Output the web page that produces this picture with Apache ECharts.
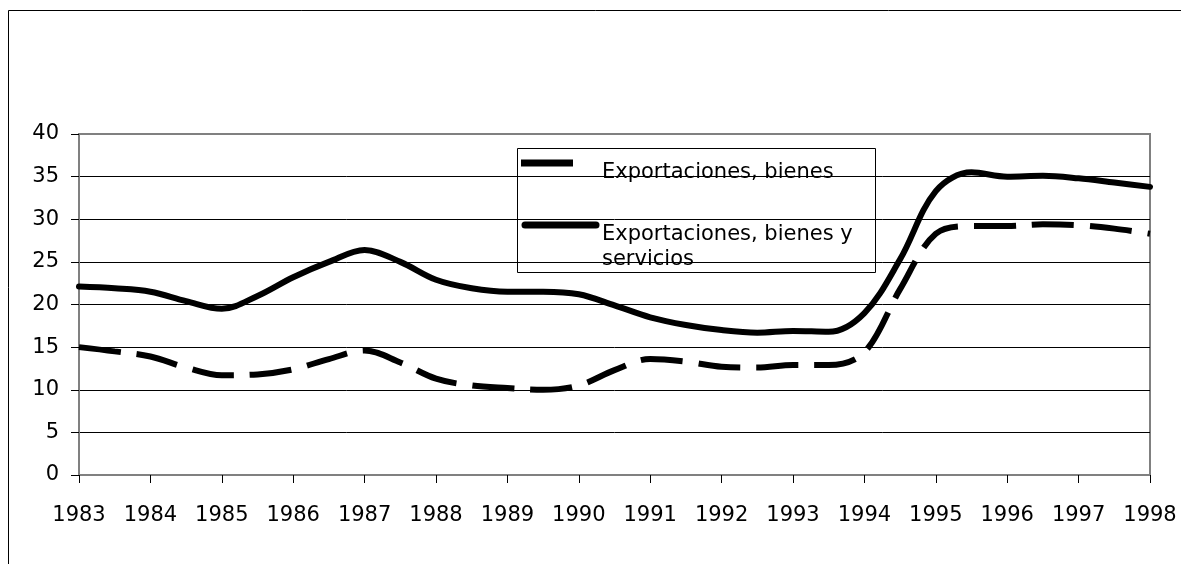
<!DOCTYPE html>
<html>
<head>
<meta charset="utf-8">
<script src="https://cdn.jsdelivr.net/npm/echarts@6/dist/echarts.min.js"></script>
<style>
  html, body { margin: 0; padding: 0; background: #fff; }
  #chart { width: 1181px; height: 564px; }
</style>
</head>
<body>
<div id="chart"></div>
<script>
// half-year positions
var years = [1983, 1983.5, 1984, 1984.5, 1985, 1985.5, 1986, 1986.5, 1987, 1987.5,
  1988, 1988.5, 1989, 1989.5, 1990, 1990.5, 1991, 1991.5, 1992, 1992.5,
  1993, 1993.5, 1994, 1994.5, 1995, 1995.5, 1996, 1996.5, 1997, 1997.5, 1998];

// Exportaciones, bienes (dashed)
var bienes = [15.0, 14.5, 13.9, 12.6, 11.7, 11.8, 12.4, 13.6, 14.6, 13.2,
  11.3, 10.5, 10.2, 10.0, 10.5, 12.3, 13.6, 13.3, 12.7, 12.6,
  12.9, 12.9, 14.4, 21.8, 28.3, 29.2, 29.2, 29.4, 29.3, 28.9, 28.3];

// Exportaciones, bienes y servicios (solid)
var bienesServicios = [22.1, 21.9, 21.5, 20.4, 19.5, 21.0, 23.2, 25.0, 26.4, 25.0,
  22.9, 21.9, 21.5, 21.5, 21.2, 19.9, 18.5, 17.6, 17.0, 16.7,
  16.9, 16.8, 19.0, 25.3, 33.3, 35.5, 35.0, 35.1, 34.8, 34.3, 33.8];

var yTicks = [0, 5, 10, 15, 20, 25, 30, 35, 40];
var legendNames = ["Exportaciones, bienes", "Exportaciones, bienes y\nservicios"];

function pairs(xs, ys) {
  return xs.map(function (x, i) { return [x, ys[i]]; });
}

var font = "DejaVu Sans";
var myChart = echarts.init(document.getElementById("chart"));

myChart.setOption({
  backgroundColor: "#fff",
  animation: false,
  grid: {
    left: 79,
    right: 31,
    top: 134,
    bottom: 89,
    show: true,
    borderColor: "#808080",
    borderWidth: 2
  },
  xAxis: {
    type: "value",
    min: 1983,
    max: 1998,
    interval: 1,
    axisLine: { lineStyle: { color: "#808080", width: 2 } },
    axisTick: { show: true, length: 8, lineStyle: { color: "#000", width: 1 } },
    axisLabel: {
      margin: 30,
      color: "#000",
      fontFamily: font,
      fontSize: 21,
      formatter: function (v) { return String(v); }
    },
    splitLine: { show: false }
  },
  yAxis: {
    type: "value",
    min: yTicks[0],
    max: yTicks[yTicks.length - 1],
    interval: 5,
    axisLine: { show: true, lineStyle: { color: "#808080", width: 2 } },
    axisTick: { show: true, length: 8, lineStyle: { color: "#000", width: 1 } },
    axisLabel: { margin: 20, color: "#000", fontFamily: font, fontSize: 21 },
    splitLine: {
      show: true,
      showMinLine: false,
      showMaxLine: false,
      lineStyle: { color: "#000", width: 1 }
    }
  },
  series: [
    {
      name: legendNames[0],
      type: "line",
      data: pairs(years, bienes),
      smooth: 0.35,
      showSymbol: false,
      lineStyle: { color: "#000", width: 6, type: [42, 16], cap: "butt" }
    },
    {
      name: legendNames[1],
      type: "line",
      data: pairs(years, bienesServicios),
      smooth: 0.35,
      showSymbol: false,
      lineStyle: { color: "#000", width: 6, cap: "round", join: "round" }
    }
  ],
  graphic: [
    // chart area frame
    {
      type: "rect",
      shape: { x: 8.5, y: 10.5, width: 1400, height: 800 },
      style: { fill: null, stroke: "#000", lineWidth: 1 },
      silent: true
    },
    // legend box
    {
      type: "group",
      z: 100,
      children: [
        {
          type: "rect",
          shape: { x: 517.5, y: 148.5, width: 358, height: 124 },
          style: { fill: "#fff", stroke: "#000", lineWidth: 1 }
        },
        {
          type: "line",
          shape: { x1: 521, y1: 163, x2: 573, y2: 163 },
          style: { stroke: "#000", lineWidth: 7, lineCap: "butt" }
        },
        {
          type: "line",
          shape: { x1: 525, y1: 225, x2: 596, y2: 225 },
          style: { stroke: "#000", lineWidth: 7, lineCap: "round" }
        },
        {
          type: "text",
          x: 602,
          y: 173,
          style: {
            text: legendNames[0],
            fill: "#000",
            font: "21px " + font,
            verticalAlign: "middle"
          }
        },
        {
          type: "text",
          x: 602,
          y: 222,
          style: {
            text: legendNames[1],
            fill: "#000",
            font: "21px " + font,
            lineHeight: 25,
            verticalAlign: "top"
          }
        }
      ]
    }
  ]
});
</script>
</body>
</html>
